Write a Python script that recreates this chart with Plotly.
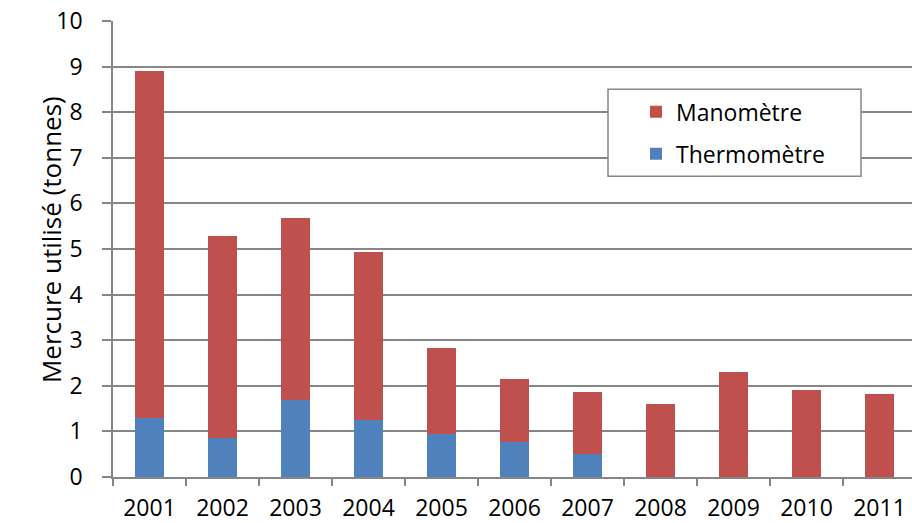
import plotly.graph_objects as go

# Mercury used per year (tonnes), split by instrument type
years = ["2001", "2002", "2003", "2004", "2005", "2006", "2007", "2008", "2009", "2010", "2011"]
thermometre = [1.30, 0.86, 1.69, 1.25, 0.95, 0.77, 0.51, 0, 0, 0, 0]
manometre = [7.60, 4.42, 3.98, 3.68, 1.87, 1.39, 1.35, 1.60, 2.30, 1.91, 1.81]

font_family = "Open Sans"
axis_grey = "#868686"

fig = go.Figure()
fig.add_trace(go.Bar(
    x=years, y=thermometre, name="Thermomètre",
    marker=dict(color="#4F81BD", line=dict(width=0)),
    legendgroup="t", legendrank=2,
))
fig.add_trace(go.Bar(
    x=years, y=manometre, name="Manomètre",
    marker=dict(color="#C0504D", line=dict(width=0)),
    legendgroup="m", legendrank=1,
))

W, H = 912, 523
L, R, T, B = 113, 0, 20.5, 45.5
pw = W - L - R
ph = H - T - B

def px_x(x):
    return (x - L) / pw

def px_y(y):
    return (H - B - y) / ph

# framed legend box
fig.add_shape(
    type="rect", xref="paper", yref="paper",
    x0=px_x(608), x1=px_x(861), y0=px_y(176), y1=px_y(89),
    fillcolor="white", line=dict(color=axis_grey, width=1.5), layer="above",
)

# vertical y-axis title
fig.add_annotation(
    text="Mercure utilisé (tonnes)", textangle=-90,
    xref="paper", yref="paper", x=px_x(51), y=px_y(240),
    xanchor="center", yanchor="middle", showarrow=False,
    font=dict(family=font_family, size=26, color="black"),
)

fig.update_layout(
    width=W, height=H,
    margin=dict(l=L, r=R, t=T, b=B, pad=0, autoexpand=False),
    paper_bgcolor="white", plot_bgcolor="white",
    barmode="stack", bargap=0.6,
    font=dict(family=font_family, size=23, color="black"),
    showlegend=True,
    legend=dict(
        x=px_x(636), y=px_y(90), xanchor="left", yanchor="top",
        bgcolor="rgba(0,0,0,0)", borderwidth=0,
        traceorder="grouped", tracegroupgap=9,
        font=dict(family=font_family, size=23, color="black"),
    ),
    xaxis=dict(
        type="category", range=[-0.5, 10.445], automargin=False,
        showline=True, linecolor=axis_grey, linewidth=1.5,
        ticks="outside", ticklen=7, tickcolor=axis_grey, tickwidth=1.5,
        tickson="boundaries", showgrid=False,
        tickfont=dict(family=font_family, size=23),
        ticklabelstandoff=10,
    ),
    yaxis=dict(
        range=[0, 10], dtick=1, automargin=False,
        showline=True, linecolor=axis_grey, linewidth=1.5,
        ticks="outside", ticklen=9, tickcolor=axis_grey, tickwidth=1.5,
        showgrid=True, gridcolor=axis_grey, gridwidth=1.5,
        zeroline=False,
        tickfont=dict(family=font_family, size=23),
        ticklabelstandoff=15,
    ),
)

fig.write_html("out.html")
